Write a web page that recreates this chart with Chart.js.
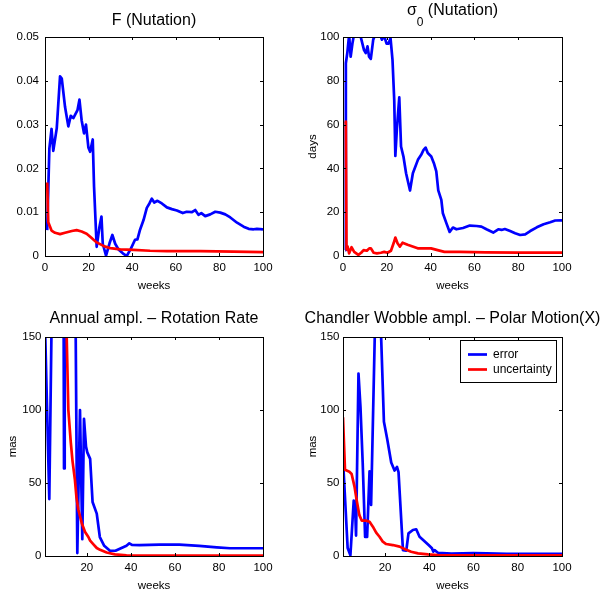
<!DOCTYPE html>
<html>
<head>
<meta charset="utf-8">
<script src="https://cdn.jsdelivr.net/npm/chart.js@4.4.0/dist/chart.umd.min.js"></script>
<style>
  body { margin: 0; background: #fff; }
  #wrap { position: relative; width: 603px; height: 594px; background: #fff; }
  #wrap canvas { position: absolute; }
</style>
</head>
<body>
<div id="wrap">
  <canvas id="p1" width="300" height="297" style="left:0;top:0"></canvas>
  <canvas id="p2" width="303" height="297" style="left:300px;top:0"></canvas>
  <canvas id="p3" width="300" height="297" style="left:0;top:297px"></canvas>
  <canvas id="p4" width="303" height="297" style="left:300px;top:297px"></canvas>
</div>
<script>
// tick values
const weekTicksFull = [0, 20, 40, 60, 80, 100];
const weekTicksPart = [20, 40, 60, 80, 100];
const fTicks = [0, 0.01, 0.02, 0.03, 0.04, 0.05];
const daysTicks = [0, 20, 40, 60, 80, 100];
const masTicks = [0, 50, 100, 150];

// F (Nutation)
const fErrWeeks = [1, 2, 3, 3.8, 5.4, 6.9, 7.7, 9.2, 10.7, 11.8, 13, 14.9, 15.8, 16.8, 17.9, 18.8, 19.9, 20.7, 21.9, 22.5, 23.7, 25, 25.9, 26.5, 28, 29.6, 30.9, 32.2, 33.7, 35.7, 37.5, 39.4, 41.3, 42.4, 43.6, 45.2, 46.7, 47.9, 49, 50.1, 51.6, 53.6, 55.9, 58.2, 60.5, 63.2, 65, 67.4, 68.9, 70.4, 71.7, 73.5, 75.8, 78.1, 80.4, 82.7, 85, 88.1, 91.1, 93.4, 95.7, 97.2, 100];
const fErrValues = [0.0059, 0.0245, 0.029, 0.024, 0.0292, 0.041, 0.0405, 0.034, 0.0296, 0.032, 0.0315, 0.0333, 0.0357, 0.031, 0.028, 0.030, 0.0248, 0.0238, 0.0266, 0.0158, 0.0021, 0.0067, 0.009, 0.0028, 0.0001, 0.0029, 0.0048, 0.0028, 0.0015, 0.0006, 0, 0.0017, 0.0037, 0.0038, 0.006, 0.0082, 0.011, 0.012, 0.0131, 0.0122, 0.0126, 0.012, 0.0111, 0.0107, 0.0104, 0.0098, 0.0101, 0.0100, 0.0105, 0.0094, 0.0098, 0.0091, 0.0095, 0.0101, 0.0099, 0.0095, 0.0088, 0.0076, 0.0067, 0.0062, 0.0061, 0.0062, 0.0061];
const fUncWeeks = [1, 1.5, 3, 4.6, 6.9, 9.2, 12.3, 14.5, 16.8, 19.1, 21.4, 23.7, 26.8, 29.9, 34.5, 40.6, 48.2, 55.9, 71.2, 86.5, 100];
const fUncValues = [0.0168, 0.0077, 0.0058, 0.0053, 0.005, 0.0053, 0.0057, 0.0059, 0.0056, 0.0051, 0.0041, 0.0031, 0.0023, 0.0018, 0.0015, 0.0014, 0.0012, 0.0011, 0.0011, 0.001, 0.0009];

// sigma_0 (Nutation), days
const s0ErrWeeks = [1, 1.3, 2, 2.8, 3.5, 4.3, 5, 6, 7.5, 8.1, 9.6, 10.4, 11.2, 11.9, 12.7, 13.8, 14.7, 16.5, 17.8, 18.8, 19.9, 20.8, 21.7, 22.6, 23.4, 23.9, 24.6, 25.7, 26.5, 27.6, 28.8, 30.6, 31.9, 34.2, 35.7, 36.8, 37.7, 38.7, 40.3, 41.5, 42.6, 43.5, 44.9, 45.6, 47.2, 48.7, 50.2, 51.8, 54.8, 57.9, 61, 63.2, 65.5, 68.6, 70.9, 72.4, 73.9, 76.3, 78.6, 80.9, 83.2, 85.5, 88.5, 91.6, 94.6, 96.9, 100];
const s0ErrValues = [2.7, 88, 93, 101, 91, 97, 101, 104, 103, 100, 94, 92.7, 95.7, 91, 90, 98.8, 101, 102, 98.8, 100.5, 97, 97, 99.5, 89.6, 71, 45.7, 58, 72.4, 50, 45.4, 37.8, 29.9, 37.8, 43.9, 46.2, 48.5, 49.5, 47, 45.4, 42.4, 38.6, 30, 25.6, 19.5, 15, 11, 13, 12.2, 12.8, 13.9, 13.7, 13.4, 12.2, 10.7, 12.2, 11.9, 12.3, 11.4, 10.4, 9.6, 9.9, 11.4, 13.1, 14.5, 15.4, 16.2, 16.3];
const s0UncWeeks = [1, 1.3, 1.6, 2.1, 2.8, 3.9, 5.1, 7, 8.3, 9.4, 10.9, 12, 12.7, 14, 15.5, 17.3, 18.8, 20.3, 21.9, 23.1, 23.9, 24.9, 26, 27.2, 29.5, 34.1, 40.2, 43.2, 46.3, 53.3, 65, 80, 100];
const s0UncValues = [61.4, 61, 3, 4.3, 1.2, 4, 1.9, 0.5, 1.5, 2.7, 2.4, 3.5, 3.5, 1.5, 1.2, 1.5, 1.9, 1.5, 2.4, 5.8, 8.4, 5.8, 4.3, 6.1, 5.1, 3.5, 3.5, 2.7, 1.9, 1.9, 1.7, 1.5, 1.5];

// Annual ampl. - Rotation Rate, mas
const rrErrWeeks = [1, 2.95, 4, 6, 9.3, 9.63, 9.95, 12, 14.8, 15.67, 16.89, 17.94, 18.71, 19.62, 20.2, 21.5, 22.6, 24.5, 25.9, 27.9, 30.5, 33, 35, 38, 39.3, 40.5, 44, 53, 62, 71, 79, 85, 100];
const rrErrValues = [158, 39, 160, 320, 260, 60, 260, 320, 180, 2, 100, 11.5, 94, 75, 71, 66.5, 37, 29, 13, 7, 3.6, 3.6, 5, 7, 8.7, 7.6, 7.5, 7.8, 7.8, 6.9, 5.9, 5.3, 5.3];
const rrUncWeeks = [1, 4, 7, 9, 10, 10.85, 11.6, 12.7, 13.5, 14.6, 15.3, 16.1, 17.7, 19.2, 20.7, 21.5, 23, 24.5, 26, 29, 32.8, 38, 50, 100];
const rrUncValues = [3000, 1200, 500, 300, 215, 150, 100, 78, 65, 52, 40, 32, 22.5, 16.5, 13, 10.5, 8, 5.5, 4.2, 2.4, 1.1, 0.5, 0.3, 0.3];

// Chandler Wobble ampl. - Polar Motion(X), mas
const cwErrWeeks = [1, 3.1, 4.35, 5.85, 6.4, 6.9, 7.3, 8.0, 8.9, 9.9, 11.0, 11.9, 13.0, 13.7, 16.5, 19.5, 21, 22.8, 24.3, 25.4, 26.1, 28.1, 29.6, 30.6, 32.6, 34.1, 35.6, 37.6, 39.7, 41.2, 41.8, 42.4, 43.9, 50, 60, 66, 75, 100];
const cwErrValues = [66, 5.5, 0.5, 38, 36, 14, 14, 125, 102, 64, 13, 13, 58, 35, 230, 92, 80, 64, 58.5, 61, 57.5, 4, 3.6, 15.5, 17.8, 18.3, 13.2, 10.5, 7.5, 5.3, 3, 4, 2.2, 1.6, 2, 1.8, 1.5, 1.5];
const cwUncWeeks = [1, 1.9, 3.9, 4.9, 6.2, 7.3, 8.4, 9.5, 11.4, 13, 14.5, 16, 17.5, 19, 20.5, 23.5, 26.6, 28.8, 31.8, 34.9, 39.4, 43.9, 60, 100];
const cwUncValues = [95, 59, 57.7, 56.2, 47.5, 37.2, 28, 24.2, 24.2, 23.5, 20.1, 16, 13.2, 9.8, 8.2, 7.5, 6.4, 4.8, 2.9, 1.8, 1.1, 0.7, 0.5, 0.5];

const FONT = '"Liberation Sans", Arial, Helvetica, sans-serif';

function pairs(xs, ys) {
    return xs.map((x, i) => ({ x: x, y: ys[i] }));
}

// box, inward ticks, titles and legend drawn the way the old plot had them
const matlabFrame = {
    id: 'matlabFrame',
    afterDatasetsDraw(chart, args, o) {
        const ctx = chart.ctx;
        const a = chart.chartArea;
        const x = chart.scales.x, y = chart.scales.y;
        const cx = (a.left + a.right) / 2;

        ctx.save();
        ctx.strokeStyle = '#000';
        ctx.lineWidth = 1;
        ctx.strokeRect(a.left + 0.5, a.top + 0.5, a.right - a.left, a.bottom - a.top);
        ctx.beginPath();
        x.ticks.forEach(t => {
            const px = Math.round(x.getPixelForValue(t.value)) + 0.5;
            ctx.moveTo(px, a.bottom); ctx.lineTo(px, a.bottom - 3);
            ctx.moveTo(px, a.top); ctx.lineTo(px, a.top + 3);
        });
        y.ticks.forEach(t => {
            const py = Math.round(y.getPixelForValue(t.value)) + 0.5;
            ctx.moveTo(a.left, py); ctx.lineTo(a.left + 3, py);
            ctx.moveTo(a.right, py); ctx.lineTo(a.right - 3, py);
        });
        ctx.stroke();

        ctx.fillStyle = '#000';
        ctx.font = '16px ' + FONT;
        ctx.textBaseline = 'alphabetic';
        const ty = a.top - o.titleGap;
        if (o.sub) {
            const w1 = ctx.measureText(o.title).width;
            const w3 = ctx.measureText(o.rest).width;
            ctx.font = '12px ' + FONT;
            const w2 = ctx.measureText(o.sub).width;
            const sx = cx - (w1 + w2 + w3) / 2;
            ctx.textAlign = 'left';
            ctx.fillText(o.sub, sx + w1, ty + 11);
            ctx.font = '16px ' + FONT;
            ctx.fillText(o.title, sx, ty);
            ctx.fillText(o.rest, sx + w1 + w2, ty);
        } else {
            ctx.textAlign = 'center';
            ctx.fillText(o.title, cx, ty);
        }

        ctx.font = '11.5px ' + FONT;
        ctx.textAlign = 'center';
        ctx.textBaseline = 'middle';
        ctx.fillText('weeks', cx, a.bottom + 30);
        if (o.yLabel) {
            ctx.save();
            ctx.translate(13, (a.top + a.bottom) / 2);
            ctx.rotate(-Math.PI / 2);
            ctx.fillText(o.yLabel, 0, 0);
            ctx.restore();
        }

        if (o.legend) {
            const bx = a.right - 102, by = a.top + 3, bw = 96, bh = 42;
            ctx.fillStyle = '#fff';
            ctx.fillRect(bx, by, bw, bh);
            ctx.strokeStyle = '#000';
            ctx.lineWidth = 1;
            ctx.strokeRect(bx + 0.5, by + 0.5, bw, bh);
            ctx.font = '12px ' + FONT;
            ctx.textAlign = 'left';
            chart.data.datasets.forEach((ds, i) => {
                const ly = by + 14.5 + i * 15;
                ctx.strokeStyle = ds.borderColor;
                ctx.lineWidth = 2.7;
                ctx.beginPath();
                ctx.moveTo(bx + 8, ly); ctx.lineTo(bx + 27, ly);
                ctx.stroke();
                ctx.fillStyle = '#000';
                ctx.fillText(ds.label, bx + 33, ly);
            });
        }
        ctx.restore();
    }
};

function panel(id, p) {
    const canvas = document.getElementById(id);
    const tickFont = { family: FONT, size: 11.5 };
    return new Chart(canvas, {
        type: 'line',
        data: {
            datasets: [
                { label: 'error', data: pairs(p.errX, p.errY), borderColor: '#0000ff', order: 1, clip: 0 },
                { label: 'uncertainty', data: pairs(p.uncX, p.uncY), borderColor: '#ff0000', order: 0, clip: 0 }
            ]
        },
        plugins: [matlabFrame],
        options: {
            responsive: false,
            animation: false,
            events: [],
            layout: { padding: { left: 0, top: p.top, right: canvas.width - p.right, bottom: 0 } },
            elements: {
                point: { radius: 0 },
                line: { borderWidth: 2.7, tension: 0, borderJoinStyle: 'round', fill: false }
            },
            plugins: {
                legend: { display: false },
                tooltip: { enabled: false },
                matlabFrame: { title: p.title, sub: p.sub, rest: p.rest, titleGap: p.titleGap, yLabel: p.yLabel, legend: p.legend }
            },
            scales: {
                x: {
                    type: 'linear', min: p.xMin, max: 100,
                    grid: { display: false, drawTicks: false },
                    border: { display: false },
                    afterBuildTicks: s => { s.ticks = p.xTicks.map(v => ({ value: v })); },
                    afterFit: s => { s.height = canvas.height - p.bottom; },
                    ticks: { font: tickFont, color: '#000', padding: 5, maxRotation: 0, autoSkip: false, callback: v => String(v) }
                },
                y: {
                    type: 'linear', min: p.yTicks[0], max: p.yTicks[p.yTicks.length - 1],
                    grid: { display: false, drawTicks: false },
                    border: { display: false },
                    afterBuildTicks: s => { s.ticks = p.yTicks.map(v => ({ value: v })); },
                    afterFit: s => { s.width = p.left; },
                    ticks: { font: tickFont, color: '#000', padding: p.yPad, autoSkip: false, callback: v => String(v) }
                }
            }
        }
    });
}

panel('p1', {
    title: 'F (Nutation)', titleGap: 12,
    errX: fErrWeeks, errY: fErrValues, uncX: fUncWeeks, uncY: fUncValues,
    xMin: 0, xTicks: weekTicksFull, yTicks: fTicks, yPad: 6,
    left: 45, right: 263, top: 37, bottom: 256
});
panel('p2', {
    title: '\u03c3', sub: '0', rest: ' (Nutation)', titleGap: 22, yLabel: 'days',
    errX: s0ErrWeeks, errY: s0ErrValues, uncX: s0UncWeeks, uncY: s0UncValues,
    xMin: 0, xTicks: weekTicksFull, yTicks: daysTicks, yPad: 3.5,
    left: 43, right: 262, top: 37, bottom: 256
});
panel('p3', {
    title: 'Annual ampl. \u2013 Rotation Rate', titleGap: 14.5, yLabel: 'mas',
    errX: rrErrWeeks, errY: rrErrValues, uncX: rrUncWeeks, uncY: rrUncValues,
    xMin: 1, xTicks: weekTicksPart, yTicks: masTicks, yPad: 3.5,
    left: 45, right: 263, top: 40, bottom: 259
});
panel('p4', {
    title: 'Chandler Wobble ampl. \u2013 Polar Motion(X)', titleGap: 14.5, yLabel: 'mas', legend: true,
    errX: cwErrWeeks, errY: cwErrValues, uncX: cwUncWeeks, uncY: cwUncValues,
    xMin: 1, xTicks: weekTicksPart, yTicks: masTicks, yPad: 3.5,
    left: 43, right: 262, top: 40, bottom: 259
});
</script>
</body>
</html>
